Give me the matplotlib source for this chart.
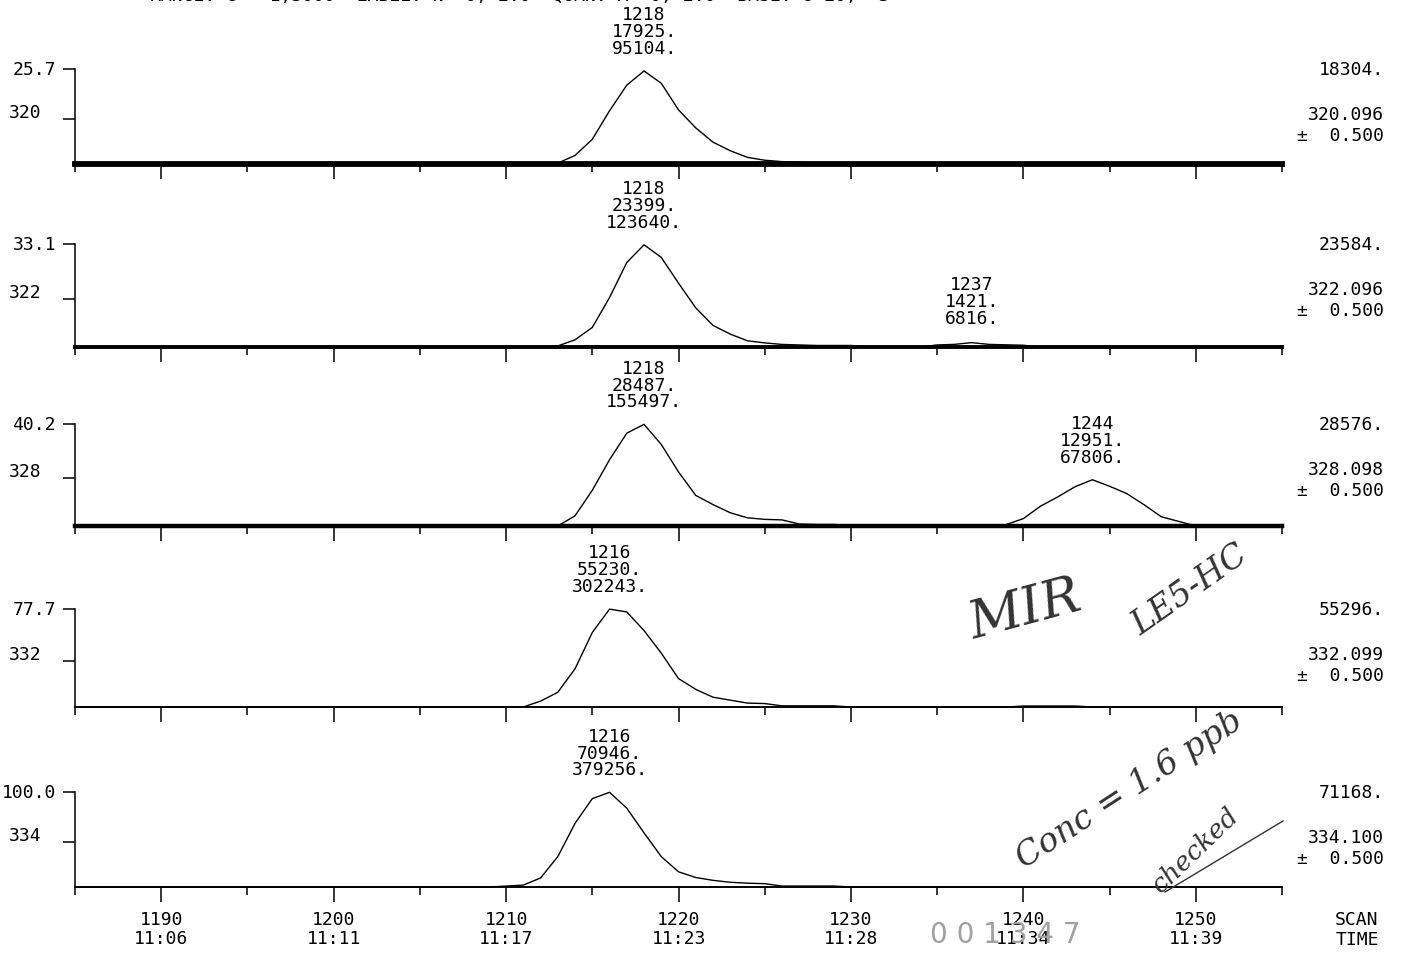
import matplotlib
matplotlib.use("Agg")
import matplotlib.pyplot as plt
from matplotlib.lines import Line2D

# --- data --------------------------------------------------------------------
masses = ["320", "322", "328", "332", "334"]
exact_masses = ["320.096", "322.096", "328.098", "332.099", "334.100"]
rel_scale = ["25.7", "33.1", "40.2", "77.7", "100.0"]
full_scale = [18304, 23584, 28576, 55296, 71168]

scan_ticks = [1190, 1200, 1210, 1220, 1230, 1240, 1250]
time_labels = ["11:06", "11:11", "11:17", "11:23", "11:28", "11:34", "11:39"]

scans_320 = [1185, 1212, 1213, 1214, 1215, 1216, 1217, 1218, 1219, 1220, 1221,
             1222, 1223, 1224, 1225, 1226, 1227, 1228, 1255]
counts_320 = [0, 0, 180, 1650, 4760, 10250, 15190, 17925, 15560, 10430, 6960,
              4210, 2560, 1280, 730, 460, 370, 0, 0]

scans_322 = [1185, 1212, 1213, 1214, 1215, 1216, 1217, 1218, 1219, 1220, 1221,
             1222, 1223, 1224, 1225, 1226, 1227, 1228, 1230, 1231, 1234, 1235,
             1236, 1237, 1238, 1239, 1240, 1241, 1255]
counts_322 = [0, 0, 240, 1650, 4480, 11320, 19340, 23399, 20520, 14620, 8960,
              4950, 2950, 1420, 940, 590, 470, 350, 350, 0, 0, 470,
              600, 1000, 600, 500, 400, 0, 0]

scans_328 = [1185, 1213, 1214, 1215, 1216, 1217, 1218, 1219, 1220, 1221, 1222,
             1223, 1224, 1225, 1226, 1227, 1228, 1229, 1230, 1238, 1239, 1240,
             1241, 1242, 1243, 1244, 1245, 1246, 1247, 1248, 1249, 1250, 1255]
counts_328 = [0, 0, 2860, 10000, 18570, 26000, 28487, 22860, 15150, 8570, 6000,
              3710, 2290, 1860, 1710, 570, 430, 430, 0, 0, 390, 2070,
              5570, 8160, 11010, 12951, 11140, 9070, 5960, 2590, 1300, 0, 0]

scans_332 = [1185, 1211, 1212, 1213, 1214, 1215, 1216, 1217, 1218, 1219, 1220,
             1221, 1222, 1223, 1224, 1225, 1226, 1229, 1230, 1239, 1240, 1243,
             1244, 1255]
counts_332 = [0, 0, 3320, 8290, 21570, 42020, 55230, 53640, 43130, 30410, 16040,
              9950, 5530, 3870, 2210, 1940, 660, 660, 0, 0, 550, 550,
              0, 0]

scans_334 = [1185, 1209, 1210, 1211, 1212, 1213, 1214, 1215, 1216, 1217, 1218,
             1219, 1220, 1221, 1222, 1223, 1224, 1225, 1226, 1229, 1230, 1255]
counts_334 = [0, 0, 710, 1420, 6760, 22770, 47680, 66190, 70946, 59070, 40570,
              22770, 11390, 7120, 4980, 3560, 2850, 2490, 710, 710, 0, 0]

traces = [(scans_320, counts_320), (scans_322, counts_322), (scans_328, counts_328),
          (scans_332, counts_332), (scans_334, counts_334)]

# peak annotations: (scan, height, area)
peaks = [
    [(1218, 17925, 95104)],
    [(1218, 23399, 123640), (1237, 1421, 6816)],
    [(1218, 28487, 155497), (1244, 12951, 67806)],
    [(1216, 55230, 302243)],
    [(1216, 70946, 379256)],
]

# --- layout (pixels of the 1401x954 page) ------------------------------------
W, H = 1401, 954
tops = [70, 245, 425, 610, 793]
bases = [165, 348, 527, 708, 888]
base_lw = [4.2, 2.8, 3.2, 1.2, 1.2]
FONT = "DejaVu Sans Mono"
FS = 13

plt.rcParams["font.family"] = FONT

fig = plt.figure(figsize=(W / 100, H / 100), dpi=100)


def fx(x):
    return x / W


def fy(y):
    return 1 - y / H


for i, (scans, counts) in enumerate(traces):
    ax = fig.add_axes([fx(75), fy(bases[i]), fx(1282) - fx(75), (bases[i] - tops[i]) / H])
    ax.set_xlim(1185, 1255)
    ax.set_ylim(0, full_scale[i])
    ax.axhline(0, color="black", lw=base_lw[i], clip_on=False, zorder=1)
    ax.plot(scans, counts, color="black", lw=1.0, clip_on=False, zorder=2)

    for sp in ("top", "right"):
        ax.spines[sp].set_visible(False)
    for sp in ("left", "bottom"):
        ax.spines[sp].set_linewidth(1.1)

    ax.set_xticks(scan_ticks)
    ax.set_xticks(range(1185, 1256, 10), minor=True)
    ax.tick_params(axis="x", which="major", length=10.5, width=1.1, direction="out", pad=6)
    ax.tick_params(axis="x", which="minor", length=6, width=1.1, direction="out")
    if i == len(traces) - 1:
        ax.set_xticklabels([f"{s}\n{t}" for s, t in zip(scan_ticks, time_labels)],
                           fontsize=FS, linespacing=1.1)
    else:
        ax.set_xticklabels([])

    mid = 0.47 * full_scale[i]
    ax.set_yticks([mid, full_scale[i]])
    ax.set_yticklabels([])
    ax.tick_params(axis="y", length=8.5, width=1.1, direction="out")

    # left-hand labels
    fig.text(fx(56), fy(tops[i]), rel_scale[i], ha="right", va="center", fontsize=FS)
    mid_px = bases[i] - 0.47 * (bases[i] - tops[i])
    fig.text(fx(25), fy(mid_px - 7), masses[i], ha="center", va="center", fontsize=FS)

    # right-hand labels
    fig.text(fx(1384), fy(tops[i]), f"{full_scale[i]}.", ha="right", va="center", fontsize=FS)
    fig.text(fx(1384), fy(tops[i] + 45), exact_masses[i], ha="right", va="center", fontsize=FS)
    fig.text(fx(1384), fy(tops[i] + 66), "\u00b1  0.500", ha="right", va="center", fontsize=FS)

    for scan, height, area in peaks[i]:
        ax.annotate(f"{scan}\n{height}.\n{area}.", xy=(scan, height),
                    xytext=(0, 10), textcoords="offset points",
                    ha="center", va="bottom", fontsize=FS, linespacing=0.92,
                    annotation_clip=False)

fig.text(fx(1357), fy(930), "SCAN\nTIME", ha="center", va="center", fontsize=FS,
         linespacing=1.1)

# header line, cut off at the top edge of the page
fig.text(fx(150), fy(-4), "RANGE: G   1,3000  LABEL: N  0, 2.0  QUAN: A  0, 2.0  BASE: U 20,  3",
         ha="left", va="center", fontsize=FS)

# handwritten notes
hand = dict(family="DejaVu Serif", style="italic", color="#333333")
fig.text(fx(1025), fy(610), "MIR", ha="center", va="center", fontsize=38, rotation=15, **hand)
fig.text(fx(1190), fy(590), "LE5-HC", ha="center", va="center", fontsize=24, rotation=35, **hand)
fig.text(fx(1130), fy(790), "Conc = 1.6 ppb", ha="center", va="center", fontsize=24,
         rotation=33, **hand)
fig.text(fx(1195), fy(850), "checked", ha="center", va="center", fontsize=19, rotation=44, **hand)
fig.add_artist(Line2D([fx(1165), fx(1283)], [fy(893), fy(822)], color="#333333", lw=1.0))
fig.text(fx(1005), fy(935), "0 0 1 3 4 7", ha="center", va="center", fontsize=20,
         family="DejaVu Sans", color="#a0a0a0")

fig.savefig("out.png", dpi=100)
